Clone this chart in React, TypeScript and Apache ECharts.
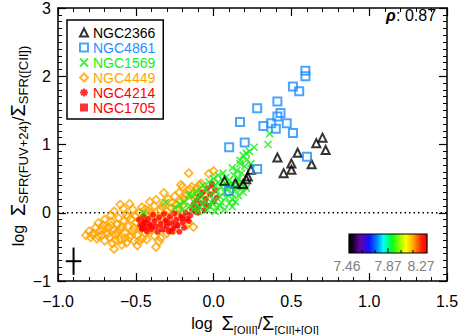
import React, { useEffect, useRef } from "react";
import * as echarts from "echarts";

const FONT = "'Liberation Sans', Arial, sans-serif";

const xMin = -1.0;
const xMax = 1.5;
const yMin = -1;
const yMax = 3;

const galaxyNames = ["NGC2366", "NGC4861", "NGC1569", "NGC4449", "NGC4214", "NGC1705"];
const galaxyColors = ["#000000", "#1E8FFF", "#14EE14", "#FFA500", "#FF0000", "#FF0000"];

const ngc2366 = [
  [0.70, 1.10], [0.66, 1.02], [0.72, 0.92], [0.54, 0.88], [0.41, 0.81], [0.50, 0.72], [0.63, 0.71],
  [0.50, 0.63], [0.45, 0.58], [0.24, 0.63], [0.22, 0.53], [0.07, 0.47], [0.14, 0.43], [0.19, 0.42], [0.21, 0.49],
];

const ngc4861 = [
  [0.59, 2.08], [0.59, 2.00], [0.51, 1.85], [0.55, 1.78], [0.28, 1.53], [0.41, 1.63], [0.43, 1.46],
  [0.41, 1.41], [0.17, 1.33], [0.37, 1.31], [0.32, 1.27], [0.47, 1.31], [0.40, 1.23], [0.51, 1.17],
  [0.20, 1.03], [0.10, 0.96], [0.60, 0.82], [0.28, 0.64], [0.10, 0.32],
];

const ngc1569 = [
  [0.36, 1.16], [0.35, 1.00], [0.26, 0.96], [0.23, 0.90], [0.21, 0.87], [0.19, 0.84], [0.21, 0.77],
  [0.17, 0.77], [0.17, 0.72], [0.24, 0.72], [0.15, 0.62], [0.06, 0.58], [0.12, 0.66], [0.20, 0.68],
  [0.00, 0.50], [0.03, 0.45], [0.08, 0.52], [0.10, 0.48], [0.13, 0.55], [0.16, 0.50], [0.18, 0.58],
  [0.11, 0.42], [0.05, 0.38], [0.09, 0.36], [0.14, 0.38], [0.21, 0.36], [0.11, 0.28], [0.14, 0.33],
  [0.17, 0.44], [0.19, 0.30], [0.07, 0.30], [0.02, 0.32], [0.04, 0.24], [0.08, 0.22], [0.12, 0.20],
  [0.16, 0.25], [-0.02, 0.26], [0.00, 0.18], [0.05, 0.15], [0.10, 0.14], [0.02, 0.08], [0.07, 0.05],
  [-0.03, 0.10], [0.14, 0.16], [-0.05, 0.35], [-0.08, 0.28], [-0.10, 0.22], [-0.06, 0.18], [-0.12, 0.14],
  [-0.14, 0.25], [-0.09, 0.08], [-0.13, 0.05], [-0.04, 0.04], [-0.16, 0.26], [-0.19, 0.16], [-0.25, 0.07],
  [-0.31, 0.15], [-0.45, 0.00], [-0.20, 0.05], [-0.10, 0.02], [-0.07, 0.40], [-0.03, 0.45], [0.01, 0.02],
  [0.04, 0.10], [-0.01, 0.14], [0.09, 0.40], [0.15, 0.45], [0.06, 0.47], [-0.15, 0.10], [-0.22, 0.12],
  [-0.11, 0.31], [0.03, 0.55], [0.12, 0.09], [-0.07, 0.12], [0.18, 0.36], [0.01, 0.40],
];

const ngc4449 = [
  [-0.82, -0.33], [-0.80, -0.27], [-0.79, -0.36], [-0.77, -0.30], [-0.76, -0.22], [-0.75, -0.38],
  [-0.73, -0.26], [-0.72, -0.33], [-0.71, -0.18], [-0.70, -0.41], [-0.69, -0.29], [-0.68, -0.22],
  [-0.67, -0.36], [-0.66, -0.13], [-0.65, -0.45], [-0.64, -0.25], [-0.64, -0.53], [-0.63, -0.32],
  [-0.62, -0.17], [-0.61, -0.08], [-0.60, -0.39], [-0.60, -0.24], [-0.59, -0.47], [-0.58, -0.12],
  [-0.57, -0.30], [-0.56, -0.44], [-0.56, -0.03], [-0.55, -0.20], [-0.54, -0.36], [-0.53, -0.09],
  [-0.52, -0.27], [-0.52, 0.05], [-0.51, -0.41], [-0.50, -0.15], [-0.49, -0.48], [-0.49, -0.33],
  [-0.48, 0.00], [-0.47, -0.23], [-0.46, -0.38], [-0.46, 0.08], [-0.45, -0.08], [-0.44, -0.30],
  [-0.43, -0.39], [-0.43, -0.16], [-0.42, 0.03], [-0.41, 0.16], [-0.40, -0.25], [-0.39, -0.05],
  [-0.38, -0.34], [-0.38, 0.10], [-0.37, -0.50], [-0.36, -0.13], [-0.35, -0.42], [-0.34, -0.37],
  [-0.34, 0.04], [-0.33, -0.22], [-0.32, 0.29], [-0.32, 0.14], [-0.31, -0.03], [-0.30, -0.30],
  [-0.29, 0.20], [-0.28, -0.12], [-0.27, 0.07], [-0.26, -0.26], [-0.25, 0.24], [-0.24, 0.12],
  [-0.23, -0.05], [-0.22, 0.30], [-0.21, 0.41], [-0.21, 0.18], [-0.20, 0.38], [-0.20, -0.02],
  [-0.19, 0.08], [-0.18, 0.28], [-0.17, 0.26], [-0.17, -0.17], [-0.16, 0.58], [-0.16, -0.15],
  [-0.15, 0.34], [-0.14, 0.38], [-0.13, -0.21], [-0.12, 0.20], [-0.10, 0.30], [-0.09, 0.41],
  [-0.08, 0.43], [-0.06, 0.26], [-0.03, 0.57], [0.00, 0.61], [-0.60, 0.12], [-0.54, 0.13],
  [-0.64, 0.02], [-0.58, 0.06], [-0.66, -0.04], [-0.70, -0.10], [-0.74, -0.15],
  [-0.78, -0.32], [-0.74, -0.34], [-0.71, -0.24], [-0.68, -0.31], [-0.66, -0.19], [-0.63, -0.40],
  [-0.62, -0.28], [-0.59, -0.20], [-0.57, -0.37], [-0.55, -0.06], [-0.53, -0.33], [-0.51, -0.22],
  [-0.50, -0.05], [-0.48, -0.41], [-0.47, -0.12], [-0.44, 0.05], [-0.42, -0.27], [-0.40, 0.00],
  [-0.37, 0.19], [-0.36, -0.07], [-0.33, 0.09], [-0.30, 0.02], [-0.27, 0.15], [-0.24, 0.05],
  [-0.19, 0.20], [-0.14, 0.27], [-0.11, 0.36], [-0.07, 0.33],
];

const ngc4214 = [
  [-0.48, -0.10], [-0.47, -0.18], [-0.46, -0.24], [-0.45, -0.05], [-0.45, -0.14], [-0.44, -0.21],
  [-0.43, -0.27], [-0.42, -0.09], [-0.41, -0.17], [-0.40, -0.24], [-0.39, -0.03], [-0.38, -0.12],
  [-0.37, -0.20], [-0.36, -0.28], [-0.35, -0.07], [-0.34, -0.16], [-0.32, -0.02], [-0.31, -0.11],
  [-0.30, -0.20], [-0.29, -0.27], [-0.28, -0.06], [-0.27, -0.15], [-0.26, -0.23], [-0.25, -0.01],
  [-0.24, -0.10], [-0.23, -0.19], [-0.22, -0.28], [-0.21, -0.05], [-0.20, -0.14], [-0.19, -0.22],
  [-0.18, 0.00], [-0.17, -0.09], [-0.16, -0.12], [-0.15, -0.04], [-0.14, 0.05], [-0.13, 0.12],
  [-0.12, 0.02], [-0.11, 0.18], [-0.10, 0.08], [-0.09, 0.25], [-0.08, 0.14], [-0.07, 0.30],
  [-0.06, 0.04], [-0.05, 0.20], [-0.04, 0.36], [-0.03, 0.10], [-0.02, 0.27], [-0.01, 0.40],
  [0.00, 0.16], [0.01, 0.33], [0.02, 0.22], [-0.01, 0.43], [-0.05, 0.12], [-0.10, 0.00],
];

const ngc1705 = [
  [-0.46, -0.22], [-0.44, -0.14], [-0.40, -0.20], [-0.33, -0.24], [-0.30, -0.14], [-0.27, -0.27],
  [-0.24, -0.18], [-0.20, -0.08],
];

const errorCenter = [-0.9, -0.71];
const errorHalf = [0.05, 0.2];

const zeroLine = [[-1.0, 0], [1.5, 0]];

const rhoLabel = "0.87";
const cbarLabels = ["7.46", "7.87", "8.27"];

const minus = (s: string) => s.replace("-", "\u2212");

const X_PATH = "path://M0,0L10,10M0,10L10,0";
const AST_PATH = "path://M5,0L5,10M0,5L10,5M1.5,1.5L8.5,8.5M1.5,8.5L8.5,1.5";

export default function App() {
  const ref = useRef<HTMLDivElement>(null);
  useEffect(() => {
    if (!ref.current) return;
    const chart = echarts.init(ref.current, null, { renderer: "svg" });

    const gridL = 58, gridR = 447, gridT = 6, gridB = 281;

    const baseAxisLine = { show: true, onZero: false, lineStyle: { color: "#000", width: 1.5 } };
    const tick = { show: true, inside: true, length: 8, lineStyle: { color: "#000", width: 1.2 } };

    const titleRich = (sub: number) => ({
      n: { fontFamily: FONT, fontSize: 16, fill: "#000", lineHeight: 24, verticalAlign: "middle" },
      S: { fontFamily: FONT, fontSize: 20, fill: "#000", lineHeight: 24, verticalAlign: "middle" },
      s: { fontFamily: FONT, fontSize: sub, fill: "#000", lineHeight: 24, verticalAlign: "bottom" },
    });

    const option: any = {
      animation: false,
      backgroundColor: "#fff",
      grid: { left: gridL, right: 464 - gridR, top: gridT, bottom: 335 - gridB },
      xAxis: [
        {
          type: "value", min: xMin, max: xMax, interval: 0.5, position: "bottom",
          axisLine: baseAxisLine, axisTick: tick,
          minorTick: { show: true, splitNumber: 5, length: 4, lineStyle: { color: "#000", width: 1 } },
          splitLine: { show: false },
          axisLabel: {
            margin: 12, color: "#000", fontFamily: FONT, fontSize: 16,
            formatter: (v: number) => minus(v.toFixed(1)),
          },
        },
        {
          type: "value", min: xMin, max: xMax, interval: 0.5, position: "top",
          axisLine: baseAxisLine, axisTick: tick,
          minorTick: { show: true, splitNumber: 5, length: 4, lineStyle: { color: "#000", width: 1 } },
          splitLine: { show: false },
          axisLabel: { show: false },
        },
      ],
      yAxis: [
        {
          type: "value", min: yMin, max: yMax, interval: 1, position: "left",
          axisLine: baseAxisLine, axisTick: tick,
          minorTick: { show: true, splitNumber: 10, length: 4, lineStyle: { color: "#000", width: 1 } },
          splitLine: { show: false },
          axisLabel: {
            margin: 7, color: "#000", fontFamily: FONT, fontSize: 16,
            formatter: (v: number) => minus(String(v)),
          },
        },
        {
          type: "value", min: yMin, max: yMax, interval: 1, position: "right",
          axisLine: baseAxisLine, axisTick: tick,
          minorTick: { show: true, splitNumber: 10, length: 4, lineStyle: { color: "#000", width: 1 } },
          splitLine: { show: false },
          axisLabel: { show: false },
        },
      ],
      legend: {
        show: true,
        orient: "vertical",
        left: 67,
        top: 20,
        padding: [5, 8, 4, 12],
        itemGap: 0,
        itemWidth: 8,
        itemHeight: 8,
        borderColor: "#000",
        borderWidth: 1.5,
        backgroundColor: "#fff",
        selectedMode: false,
        textStyle: { fontFamily: FONT, fontSize: 14, lineHeight: 15 },
        data: [
          { name: galaxyNames[0], icon: "triangle", itemStyle: { color: "transparent", borderColor: galaxyColors[0], borderWidth: 2 }, textStyle: { color: galaxyColors[0] } },
          { name: galaxyNames[1], icon: "rect", itemStyle: { color: "transparent", borderColor: galaxyColors[1], borderWidth: 2 }, textStyle: { color: galaxyColors[1] } },
          { name: galaxyNames[2], icon: X_PATH, itemStyle: { color: "transparent", borderColor: galaxyColors[2], borderWidth: 2 }, textStyle: { color: galaxyColors[2] } },
          { name: galaxyNames[3], icon: "diamond", itemStyle: { color: "transparent", borderColor: galaxyColors[3], borderWidth: 2 }, textStyle: { color: galaxyColors[3] } },
          { name: galaxyNames[4], icon: AST_PATH, itemStyle: { color: "transparent", borderColor: galaxyColors[4], borderWidth: 2 }, textStyle: { color: galaxyColors[4] } },
          { name: galaxyNames[5], icon: "rect", itemStyle: { color: galaxyColors[5], borderColor: galaxyColors[5], borderWidth: 0 }, textStyle: { color: galaxyColors[5] } },
        ],
      },
      series: [
        {
          type: "line", data: zeroLine, symbol: "none", silent: true,
          lineStyle: { color: "#000", width: 1.5, type: [1.5, 3] }, z: 1,
        },
        {
          name: galaxyNames[3], type: "scatter", data: ngc4449, symbol: "diamond", symbolSize: 8,
          itemStyle: { color: "transparent", borderColor: galaxyColors[3], borderWidth: 1.8 }, z: 2,
        },
        {
          name: galaxyNames[4], type: "scatter", data: ngc4214, symbol: AST_PATH, symbolSize: 6,
          itemStyle: { color: "transparent", borderColor: galaxyColors[4], borderWidth: 1.8 }, z: 3,
        },
        {
          name: galaxyNames[5], type: "scatter", data: ngc1705, symbol: "rect", symbolSize: 6,
          itemStyle: { color: galaxyColors[5] }, z: 3,
        },
        {
          name: galaxyNames[2], type: "scatter", data: ngc1569, symbol: X_PATH, symbolSize: 7,
          itemStyle: { color: "transparent", borderColor: galaxyColors[2], borderWidth: 1.6 }, z: 4,
        },
        {
          name: galaxyNames[0], type: "scatter", data: ngc2366, symbol: "triangle", symbolSize: 8,
          itemStyle: { color: "transparent", borderColor: galaxyColors[0], borderWidth: 2 }, z: 5,
        },
        {
          name: galaxyNames[1], type: "scatter", data: ngc4861, symbol: "rect", symbolSize: 8,
          itemStyle: { color: "transparent", borderColor: galaxyColors[1], borderWidth: 2 }, z: 5,
        },
        {
          type: "line", symbol: "none", silent: true,
          data: [[errorCenter[0] - errorHalf[0], errorCenter[1]], [errorCenter[0] + errorHalf[0], errorCenter[1]]],
          lineStyle: { color: "#000", width: 2 }, z: 6,
        },
        {
          type: "line", symbol: "none", silent: true,
          data: [[errorCenter[0], errorCenter[1] - errorHalf[1]], [errorCenter[0], errorCenter[1] + errorHalf[1]]],
          lineStyle: { color: "#000", width: 2 }, z: 6,
        },
      ],
      graphic: [
        {
          type: "text", x: 386, y: 15, z: 10,
          style: {
            text: "\u03c1", fontFamily: FONT, fontSize: 16, fontWeight: "bold", fontStyle: "italic",
            fill: "#000", align: "left", verticalAlign: "middle",
          },
        },
        {
          type: "text", x: 396, y: 15, z: 10,
          style: {
            text: ": " + rhoLabel, fontFamily: FONT, fontSize: 16,
            fill: "#000", align: "left", verticalAlign: "middle",
          },
        },
        {
          type: "rect", z: 10,
          shape: { x: 349, y: 234, width: 78, height: 19 },
          style: {
            fill: {
              type: "linear", x: 0, y: 0, x2: 1, y2: 0,
              colorStops: [
                { offset: 0, color: "#000000" },
                { offset: 0.06, color: "#200030" },
                { offset: 0.14, color: "#6a00a8" },
                { offset: 0.26, color: "#1010ff" },
                { offset: 0.36, color: "#0088ff" },
                { offset: 0.44, color: "#00ffff" },
                { offset: 0.55, color: "#00ff20" },
                { offset: 0.64, color: "#80ff00" },
                { offset: 0.73, color: "#ffff00" },
                { offset: 0.83, color: "#ffa000" },
                { offset: 0.93, color: "#ff2000" },
                { offset: 1, color: "#ff0000" },
              ],
            },
            stroke: "#000", lineWidth: 1.2,
          },
        },
        ...[362, 375, 388, 401, 413].map((px, i) => ({
          type: "line", z: 11,
          shape: { x1: px, y1: 253, x2: px, y2: i === 2 ? 248 : 250 },
          style: { stroke: "#000", lineWidth: 1 },
        })),
        ...cbarLabels.map((t, i) => ({
          type: "text", z: 11,
          x: [347, 388, 421][i], y: 266,
          style: { text: t, fontFamily: FONT, fontSize: 14, fill: "#808080", align: "center", verticalAlign: "middle" },
        })),
        {
          type: "text", z: 10, x: 255, y: 323,
          style: {
            text: "{n|log  }{S|\u03a3}{s|[OIII]}{n|/}{S|\u03a3}{s|[CII]+[OI]}",
            align: "center", verticalAlign: "middle",
            rich: titleRich(11),
          },
        },
        {
          type: "text", z: 10, x: 18, y: 146, rotation: Math.PI / 2,
          style: {
            text: "{n|log  }{S|\u03a3}{s|SFR(FUV+24)}{n|/}{S|\u03a3}{s|SFR([CII])}",
            align: "center", verticalAlign: "middle",
            rich: titleRich(13),
          },
        },
      ],
    };

    chart.setOption(option);
    return () => chart.dispose();
  }, []);

  return <div ref={ref} style={{ width: 464, height: 335, position: "absolute", left: 0, top: 0 }} />;
}
